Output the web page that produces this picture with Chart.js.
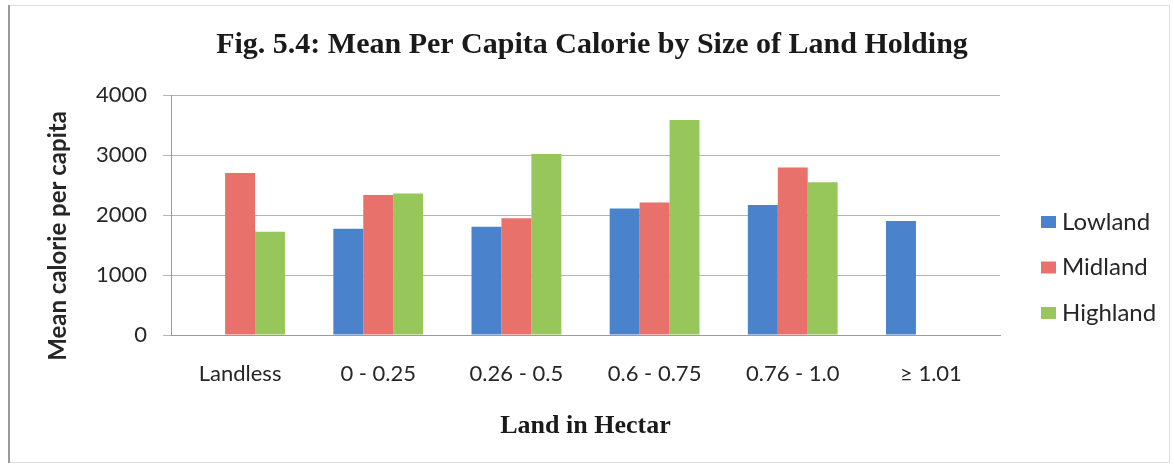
<!DOCTYPE html>
<html>
<head>
<meta charset="utf-8">
<title>Fig. 5.4</title>
<script src="https://cdn.jsdelivr.net/npm/chart.js@4.4.1/dist/chart.umd.min.js"></script>
<style>
  html, body { margin: 0; padding: 0; background: #fff; }
  canvas { display: block; }
</style>
</head>
<body>
<canvas id="chart" width="1174" height="468"></canvas>
<script>
'use strict';

// ── data ──────────────────────────────────────────────────────────────────────

const categories = ['Landless', '0 - 0.25', '0.26 - 0.5', '0.6 - 0.75', '0.76 - 1.0', '\u2265 1.01'];
const lowland  = [null, 1770, 1805, 2110, 2165, 1900];
const midland  = [2700, 2335, 1945, 2210, 2790, null];
const highland = [1720, 2360, 3015, 3585, 2545, null];
const yTicks   = [0, 1000, 2000, 3000, 4000];

const titleText = 'Fig. 5.4: Mean Per Capita Calorie by Size of Land Holding';
const xTitle = 'Land in Hectar';
const yTitle = 'Mean calorie per capita';

// ── plugins ───────────────────────────────────────────────────────────────────

// white page + thin frame like the scanned figure
const frame = {
  id: 'frame',
  beforeDraw(chart) {
    const ctx = chart.ctx;
    ctx.save();
    ctx.fillStyle = '#fff';
    ctx.fillRect(0, 0, chart.width, chart.height);
    ctx.strokeStyle = '#dedede';
    ctx.lineWidth = 1;
    ctx.strokeRect(9.5, 5.5, 1160, 457);
    ctx.strokeStyle = '#9a9a9a';
    ctx.lineWidth = 2;
    ctx.beginPath();
    ctx.moveTo(9, 5);
    ctx.lineTo(9, 463);
    ctx.stroke();
    ctx.restore();
  }
};

// y title sits a bit lower than the plot centre, as in Excel
const sideTitle = {
  id: 'sideTitle',
  afterDraw(chart) {
    const ctx = chart.ctx;
    ctx.save();
    ctx.translate(58, 236);
    ctx.rotate(-Math.PI / 2);
    ctx.font = 'bold 24px Lato';
    ctx.fillStyle = '#262626';
    ctx.textAlign = 'center';
    ctx.textBaseline = 'middle';
    ctx.fillText(yTitle, 0, 0);
    ctx.restore();
  }
};

// legend on the right, square swatches
const sideLegend = {
  id: 'sideLegend',
  afterDraw(chart) {
    const ctx = chart.ctx;
    const x = chart.chartArea.right + 41;
    let y = 222;
    ctx.save();
    ctx.font = '24px Lato';
    ctx.textBaseline = 'middle';
    ctx.textAlign = 'left';
    chart.data.datasets.forEach(ds => {
      ctx.fillStyle = ds.backgroundColor;
      ctx.fillRect(x, y - 6, 15, 12);
      ctx.fillStyle = '#262626';
      ctx.fillText(ds.label, x + 21, y);
      y += 45.5;
    });
    ctx.restore();
  }
};

// ── chart ─────────────────────────────────────────────────────────────────────

new Chart(document.getElementById('chart'), {
  type: 'bar',
  data: {
    labels: categories,
    datasets: [
      { label: 'Lowland',  data: lowland,  backgroundColor: '#4a82cc' },
      { label: 'Midland',  data: midland,  backgroundColor: '#e8716b' },
      { label: 'Highland', data: highland, backgroundColor: '#97c75b' },
    ]
  },
  options: {
    responsive: false,
    animation: false,
    layout: { padding: { left: 10, right: 0, top: 0, bottom: 0 } },
    datasets: { bar: { categoryPercentage: 0.65, barPercentage: 1.0 } },
    plugins: {
      legend: { display: false },
      tooltip: { enabled: false },
      title: {
        display: true,
        text: titleText,
        color: '#1a1a1a',
        font: { family: 'Liberation Serif', size: 30, weight: 'bold' },
        padding: { top: 27, bottom: 32 },
      },
    },
    scales: {
      x: {
        grid: { display: false, drawTicks: false },
        border: { display: true, color: '#9a9a9a', width: 1 },
        ticks: { color: '#262626', font: { family: 'Lato', size: 22 }, padding: 26, maxRotation: 0 },
        title: {
          display: true,
          text: xTitle,
          color: '#1a1a1a',
          font: { family: 'Liberation Serif', size: 26, weight: 'bold' },
          padding: { top: 0, bottom: 26 },
        },
        afterFit(scale) { scale.height = 133; },
      },
      y: {
        min: 0,
        max: 4000,
        afterBuildTicks(scale) { scale.ticks = yTicks.map(v => ({ value: v })); },
        grid: { color: '#b4b4b4', lineWidth: 1, tickLength: 8 },
        border: { display: true, color: '#9a9a9a', width: 1 },
        ticks: { color: '#262626', font: { family: 'Lato', size: 22 }, padding: 16, callback: v => String(v) },
        afterFit(scale) { scale.width = 161; },
      },
      // empty right-hand axis that keeps room for the legend
      side: {
        type: 'linear',
        position: 'right',
        grid: { display: false },
        border: { display: false },
        ticks: { display: false },
        afterFit(scale) { scale.width = 174; },
      },
    },
  },
  plugins: [frame, sideTitle, sideLegend],
});
</script>
</body>
</html>
